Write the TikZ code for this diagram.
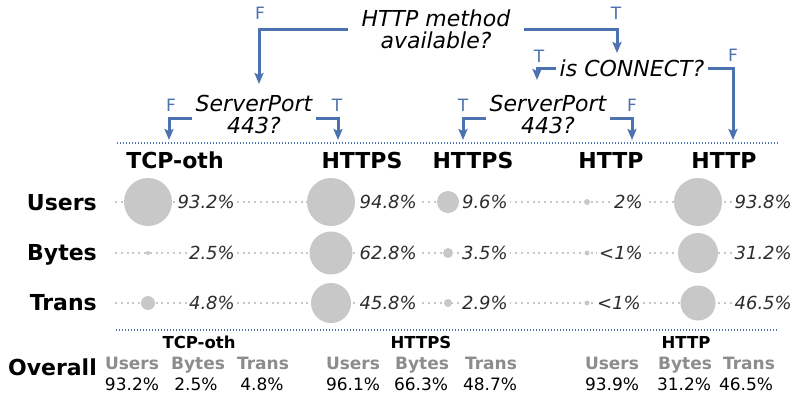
\documentclass[tikz,border=0pt]{standalone}
\usepackage{fontspec}
\setmainfont{DejaVu Sans}
\usetikzlibrary{arrows.meta}
\definecolor{flowblue}{RGB}{76,114,176}
\definecolor{dotgray}{RGB}{200,200,200}
\definecolor{valgray}{RGB}{45,45,45}
\definecolor{keygray}{RGB}{140,140,140}

\begin{document}
\begin{tikzpicture}[x=1pt,y=-1pt,
  question/.style={font=\fontsize{22}{22}\selectfont\itshape, align=center, inner sep=4pt},
  conn/.style={draw=flowblue, line width=3pt, -{Stealth[length=11pt,width=9pt,inset=2pt]}},
  tf/.style={font=\fontsize{17}{17}\selectfont, text=flowblue, inner sep=1pt},
  sep/.style={draw=flowblue, line width=1.6pt, dash pattern=on 1.3pt off 1.7pt},
  rowline/.style={draw=dotgray, line width=2pt, dash pattern=on 2pt off 3.8pt},
  head/.style={font=\fontsize{22}{22}\selectfont\bfseries, inner sep=1pt},
  rowlab/.style={font=\fontsize{22}{22}\selectfont\bfseries, anchor=east, inner sep=1pt,
    text height=16pt, text depth=0pt},
  bubble/.style={circle, fill=dotgray, inner sep=0pt, minimum size=#1},
  pct/.style={font=\fontsize{18}{18}\selectfont\itshape, text=valgray, fill=white,
    anchor=east, inner xsep=2pt, inner ysep=1pt},
  grp/.style={font=\fontsize{16.5}{16.5}\selectfont\bfseries, inner sep=1pt},
  key/.style={font=\fontsize{17}{17}\selectfont\bfseries, text=keygray, inner sep=1pt,
    text height=12.4pt, text depth=0pt},
  val/.style={font=\fontsize{17}{17}\selectfont, inner sep=1pt,
    text height=12.4pt, text depth=0pt}]
\useasboundingbox (0,0) rectangle (793,394);

% decision nodes
\node[question, inner xsep=13pt] (q1) at (436,29) {HTTP method\\available?};
\node[question] (q2) at (632,68) {is CONNECT?};
\node[question] (q3) at (254,114) {ServerPort\\443?};
\node[question] (q4) at (548,114) {ServerPort\\443?};

% arrow ends
\coordinate (tA) at (259,84);
\coordinate (tB) at (617,53);
\coordinate (tC) at (537,80);
\coordinate (tD) at (733,140);
\coordinate (tE) at (169,140);
\coordinate (tF) at (338,140);
\coordinate (tG) at (463,140);
\coordinate (tH) at (632,140);

% branches
\draw[conn] (q1.west) -| (tA);
\draw[conn] (q1.east) -| (tB);
\draw[conn] (q2.west) -| (tC);
\draw[conn] (q2.east) -| (tD);
\draw[conn] ([yshift=-4pt]q3.west) -| (tE);
\draw[conn] ([yshift=-4pt]q3.east) -| (tF);
\draw[conn] ([yshift=-4pt]q4.west) -| (tG);
\draw[conn] ([yshift=-4pt]q4.east) -| (tH);

% branch labels
\node[tf] (lA) at (260,13) {F};
\node[tf] (lB) at (616,13) {T};
\node[tf] (lC) at (539,56) {T};
\node[tf] (lD) at (733,55) {F};
\node[tf] (lE) at (171,105) {F};
\node[tf] (lF) at (337,105) {T};
\node[tf] (lG) at (463,105) {T};
\node[tf] (lH) at (632,105) {F};

% separators
\coordinate (s1a) at (117,143); \coordinate (s1b) at (778,143);
\coordinate (s2a) at (116,330); \coordinate (s2b) at (778,330);
\draw[sep] (s1a) -- (s1b);
\draw[sep] (s2a) -- (s2b);

% column headers
\node[head] (h1) at (175,160) {TCP-oth};
\node[head] (h2) at (362,160) {HTTPS};
\node[head] (h3) at (473,160) {HTTPS};
\node[head] (h4) at (611,160) {HTTP};
\node[head] (h5) at (724,160) {HTTP};

% row labels
\node[rowlab] (rU) at (98,202) {Users};
\node[rowlab] (rB) at (98,252) {Bytes};
\node[rowlab] (rT) at (98,302) {Trans};

% dotted row guides
\coordinate (gUa) at (115,202); \coordinate (gUb) at (782,202);
\coordinate (gBa) at (115,253); \coordinate (gBb) at (782,253);
\coordinate (gTa) at (115,303); \coordinate (gTb) at (782,303);
\draw[rowline] (gUa) -- (gUb);
\draw[rowline] (gBa) -- (gBb);
\draw[rowline] (gTa) -- (gTb);

% bubbles
\node[bubble=48pt] (c11) at (148,202) {};
\node[bubble=4pt]  (c12) at (148,253) {};
\node[bubble=14pt] (c13) at (148,303) {};
\node[bubble=48pt] (c21) at (331,202) {};
\node[bubble=43pt] (c22) at (331,253) {};
\node[bubble=40pt] (c23) at (331,303) {};
\node[bubble=22pt] (c31) at (448,202) {};
\node[bubble=10pt] (c32) at (448,253) {};
\node[bubble=8pt]  (c33) at (448,303) {};
\node[bubble=6pt]  (c41) at (587,202) {};
\node[bubble=5pt]  (c42) at (587,253) {};
\node[bubble=5pt]  (c43) at (587,303) {};
\node[bubble=48pt] (c51) at (698,202) {};
\node[bubble=40pt] (c52) at (698,253) {};
\node[bubble=35pt] (c53) at (698,303) {};

% percentages
\node[pct] (p11) at (237,202) {93.2\%};
\node[pct] (p12) at (237,253) {2.5\%};
\node[pct] (p13) at (237,303) {4.8\%};
\node[pct] (p21) at (419,202) {94.8\%};
\node[pct] (p22) at (419,253) {62.8\%};
\node[pct] (p23) at (419,303) {45.8\%};
\node[pct] (p31) at (510,202) {9.6\%};
\node[pct] (p32) at (510,253) {3.5\%};
\node[pct] (p33) at (510,303) {2.9\%};
\node[pct] (p41) at (645,202) {2\%};
\node[pct] (p42) at (645,253) {<1\%};
\node[pct] (p43) at (643,303) {<1\%};
\node[pct] (p51) at (794,202) {93.8\%};
\node[pct] (p52) at (794,253) {31.2\%};
\node[pct] (p53) at (794,303) {46.5\%};

% overall summary
\node[rowlab] (ov) at (98,367) {Overall};

\node[grp] (g1) at (199,342) {TCP-oth};
\node[key] (k11) at (132,363) {Users};
\node[key] (k12) at (198,363) {Bytes};
\node[key] (k13) at (263,363) {Trans};
\node[val] (v11) at (132,384) {93.2\%};
\node[val] (v12) at (196,384) {2.5\%};
\node[val] (v13) at (262,384) {4.8\%};

\node[grp] (g2) at (421,342) {HTTPS};
\node[key] (k21) at (353,363) {Users};
\node[key] (k22) at (422,363) {Bytes};
\node[key] (k23) at (491,363) {Trans};
\node[val] (v21) at (353,384) {96.1\%};
\node[val] (v22) at (421,384) {66.3\%};
\node[val] (v23) at (490,384) {48.7\%};

\node[grp] (g3) at (686,342) {HTTP};
\node[key] (k31) at (612,363) {Users};
\node[key] (k32) at (685,363) {Bytes};
\node[key] (k33) at (749,363) {Trans};
\node[val] (v31) at (612,384) {93.9\%};
\node[val] (v32) at (684,384) {31.2\%};
\node[val] (v33) at (746,384) {46.5\%};
\end{tikzpicture}
\end{document}
